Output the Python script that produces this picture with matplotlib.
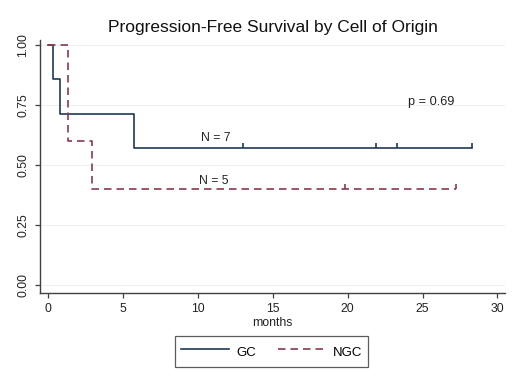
import numpy as np
import matplotlib.pyplot as plt

plt.rcParams['font.family'] = ['Liberation Sans', 'DejaVu Sans']

# Kaplan-Meier step data
gc_times = [0.0, 0.3, 0.8, 5.7, 28.3]
gc_surv = [1.0, 0.857, 0.714, 0.571, 0.571]
gc_censor = [13.0, 21.9, 23.3, 28.3]

ngc_times = [0.0, 1.35, 2.95, 27.2]
ngc_surv = [1.0, 0.6, 0.4, 0.4]
ngc_censor = [19.85, 27.2]

x_ticks = [0, 5, 10, 15, 20, 25, 30]
y_ticks = [0.0, 0.25, 0.5, 0.75, 1.0]

navy = '#1e3a56'
maroon = '#8a3a4c'
txt = '#222222'
fs = 8.8


def censor_marks(ax, times, steps_t, steps_s, color):
    # small upward ticks on the curve at censoring times
    t = np.asarray(times)
    idx = np.searchsorted(steps_t, t, side='right') - 1
    s = np.asarray(steps_s)[idx]
    ax.vlines(t, s, s + 0.022, color=color, lw=1.2)


fig = plt.figure(figsize=(5.2, 3.78), dpi=100)
ax = fig.add_axes([0.077, 0.225, 0.894, 0.669])

ax.step(gc_times, gc_surv, where='post', color=navy, lw=1.2, label='GC')
ax.step(ngc_times, ngc_surv, where='post', color=maroon, lw=1.2,
        dashes=(4.5, 3), label='NGC')
censor_marks(ax, gc_censor, gc_times, gc_surv, navy)
censor_marks(ax, ngc_censor, ngc_times, ngc_surv, maroon)

ax.set_xlim(-0.55, 30.5)
ax.set_ylim(-0.033, 1.021)
ax.set_xticks(x_ticks)
ax.set_yticks(y_ticks)
ax.set_yticklabels(['%.2f' % v for v in y_ticks], rotation=90, va='center')
ax.tick_params(labelsize=fs, color='#404040', length=3.5, width=0.9,
               labelcolor=txt)
ax.tick_params(axis='y', pad=4)
ax.grid(axis='y', color='#ececec', lw=0.6)
ax.set_axisbelow(True)
for side in ['top', 'right']:
    ax.spines[side].set_visible(False)
for side in ['left', 'bottom']:
    ax.spines[side].set_color('#404040')
    ax.spines[side].set_linewidth(1.0)

ax.set_xlabel('months', fontsize=fs, labelpad=2, color=txt)
ax.set_title('Progression-Free Survival by Cell of Origin', fontsize=12.5,
             pad=6, color='#111111')

ax.text(10.2, 0.6, 'N = 7', fontsize=fs, color=txt)
ax.text(10.1, 0.42, 'N = 5', fontsize=fs, color=txt)
ax.text(24, 0.75, 'p = 0.69', fontsize=9.2, color=txt)

leg = fig.legend(loc='center', bbox_to_anchor=(0.523, 0.070), ncol=2,
                 fontsize=9.5, handlelength=3.6, handleheight=1.9,
                 handletextpad=0.6, columnspacing=1.6,
                 frameon=True, fancybox=False, borderpad=0.45)
leg.get_frame().set_edgecolor('#333333')
leg.get_frame().set_linewidth(0.9)

fig.savefig('out.png', dpi=100)
